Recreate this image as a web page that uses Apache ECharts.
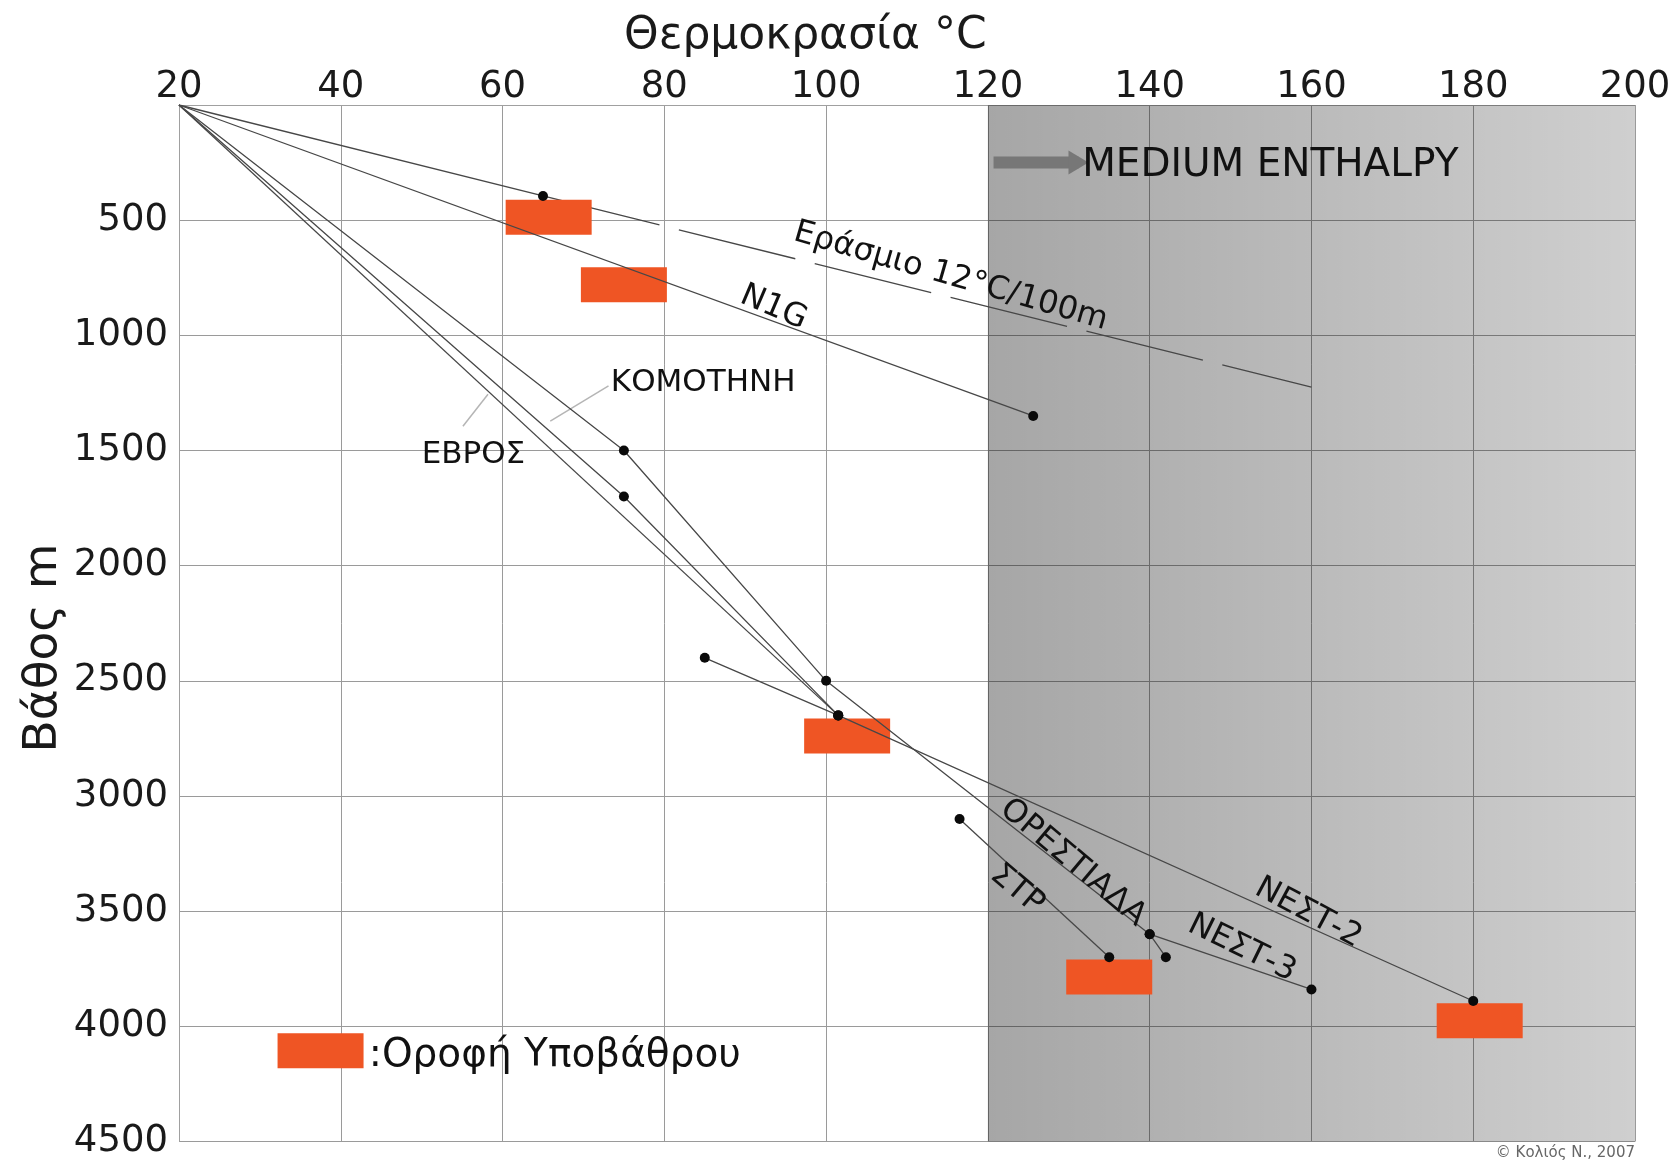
<!DOCTYPE html>
<html><head><meta charset="utf-8">
<script src="https://cdn.jsdelivr.net/npm/echarts@6/dist/echarts.min.js"></script>
<style>html,body{margin:0;padding:0;background:#fff}#c{width:1679px;height:1160px}</style>
</head><body><div id="c"></div>
<script>
// ---- data (temperature °C, depth m) ----
const xTickValues = [20,40,60,80,100,120,140,160,180,200];
const yTickValues = [0,500,1000,1500,2000,2500,3000,3500,4000,4500];
const erasmioMeasured = [[20,0],[65,395]];
const erasmioTrend = [[65,395],[160,1225]];
const n1g = [[20,0],[125.6,1350]];
const evros = [[20,0],[101.5,2650]];
const komotini = [[20,0],[75,1700],[101.5,2650]];
const orestiada = [[20,0],[75,1500],[100,2500],[140,3600],[142,3700]];
const nest3 = [[140,3600],[160,3840]];
const nest2 = [[85,2400],[101.5,2650],[180,3890]];
const str = [[116.5,3100],[135,3700]];
const basementTop = [[65.7,487],[75,780],[102.6,2740],[135,3786],[180.8,3976]];
const legendBox = [[37.5,4106]];
const mediumEnthalpyRange = [120,200];
const enthalpyArrow = [[120.7,250],[131.2,250]];
const komotiniLeader = [[73.1,1219],[65.9,1372]];
const evrosLeader = [[55.1,1395],[58.2,1256]];
// text annotations: [text, temperature, depth, angle]
const annotations = [
  ['Εράσμιο 12°C/100m', 115.4, 745, -16],
  ['N1G', 93.5, 880, -23],
  ['ΚΟΜΟΤΗΝΗ', 84.8, 1205, 0],
  ['ΕΒΡΟΣ', 56.4, 1520, 0],
  ['ΟΡΕΣΤΙΑΔΑ', 130.5, 3290, -40],
  ['ΣΤΡ', 123.6, 3406, -40],
  ['ΝΕΣΤ-3', 151.4, 3661, -26],
  ['ΝΕΣΤ-2', 159.6, 3508, -28]
];
const leftTexts = [
  ['MEDIUM ENTHALPY', 131.6, 266],
  [':Οροφή Υποβάθρου', 43.4, 4128]
];

const FONT = '"DejaVu Sans", Verdana, sans-serif';
const LINE = '#474747';
const isOrigin = p => p[0] === 20 && p[1] === 0;
const wells = [n1g, evros, komotini, orestiada, nest3, nest2, str];
const measured = [];
[erasmioMeasured].concat(wells).forEach(w => w.forEach(p => { if (!isOrigin(p)) measured.push(p); }));

function well(pts, z) {
  return {type:'line', data: pts, symbol:'none', silent:true, z: z||4,
    lineStyle:{color:LINE, width:1.3}};
}
const textItem = {color:'rgba(0,0,0,0)', opacity:1};

const chart = echarts.init(document.getElementById('c'));
chart.setOption({
  animation:false,
  backgroundColor:'#ffffff',
  title:{text:'Θερμοκρασία °C', left:619, top:10,
    textStyle:{fontFamily:FONT, fontSize:44, fontWeight:'normal', color:'#1a1a1a'}},
  grid:{left:179, top:105, width:1456, height:1039},
  xAxis:{type:'value', position:'top', min:20, max:200, interval:20,
    axisLine:{show:true, lineStyle:{color:'#a0a0a0'}}, axisTick:{show:false},
    axisLabel:{fontFamily:FONT, fontSize:37, color:'#1a1a1a', margin:-1},
    splitLine:{show:true, lineStyle:{color:'#9a9a9a', width:1}}},
  yAxis:{type:'value', inverse:true, min:0, max:4500, interval:500,
    axisLine:{show:true, lineStyle:{color:'#a0a0a0'}}, axisTick:{show:false},
    axisLabel:{fontFamily:FONT, fontSize:37, color:'#1a1a1a', margin:11,
      formatter: v => v === 0 ? '' : String(v)},
    splitLine:{show:true, lineStyle:{color:'#9a9a9a', width:1}}},
  graphic:[
    {type:'text', x:44, y:648, rotation:Math.PI/2,
      style:{text:'Βάθος m', fontFamily:FONT, fontSize:47, fill:'#1a1a1a',
        textAlign:'center', textVerticalAlign:'middle'}},
    {type:'text', right:44, top:1146,
      style:{text:'© Κολιός Ν., 2007', fontFamily:FONT, fontSize:15, fill:'#666'}}],
  series:[
    {type:'line', data:[], silent:true, z:0,
      markArea:{silent:true, itemStyle:{color:new echarts.graphic.LinearGradient(0,0,1,0,[
          {offset:0, color:'rgba(0,0,0,0.35)'},{offset:1, color:'rgba(0,0,0,0.19)'}])},
        data:[[{coord:[mediumEnthalpyRange[0],0]},{coord:[mediumEnthalpyRange[1],4500]}]]}},
    {type:'line', data:enthalpyArrow, symbol:'none', silent:true, z:3,
      lineStyle:{color:'#777', width:12}},
    {type:'scatter', data:[enthalpyArrow[1]], symbol:'triangle', symbolRotate:-90,
      symbolSize:[24,20], itemStyle:{color:'#777', opacity:1}, silent:true, z:3},
    well(erasmioMeasured, 1),
    {type:'line', data:erasmioTrend, symbol:'none', silent:true, z:1,
      lineStyle:{color:LINE, width:1.3, type:[120,20]}},
    {type:'scatter', data:basementTop.concat(legendBox), symbol:'rect', symbolSize:[86,35],
      itemStyle:{color:'#ef5524', opacity:1}, silent:true, z:2},
    ...wells.map(w => well(w, 4)),
    {type:'line', data:komotiniLeader, symbol:'none', silent:true, z:3,
      lineStyle:{color:'#b5b5b5', width:1.5}},
    {type:'line', data:evrosLeader, symbol:'none', silent:true, z:3,
      lineStyle:{color:'#b5b5b5', width:1.5}},
    {type:'scatter', data:measured, symbol:'circle', symbolSize:10,
      itemStyle:{color:'#0a0a0a', opacity:1}, silent:true, z:5},
    {type:'scatter', silent:true, z:6, symbolSize:1, itemStyle:textItem,
      data: annotations.map(a => ({value:[a[1],a[2]],
        label:{show:true, position:'inside', formatter:a[0], rotate:a[3], opacity:1,
          fontFamily:FONT, fontSize: a[3] === 0 ? 31 : 32, color:'#111'}}))},
    {type:'scatter', silent:true, z:6, symbolSize:1, itemStyle:textItem,
      data: leftTexts.map(a => ({value:[a[1],a[2]],
        label:{show:true, position:'right', distance:0, formatter:a[0], opacity:1,
          fontFamily:FONT, fontSize:39, color:'#111'}}))}
  ]
});
</script></body></html>
